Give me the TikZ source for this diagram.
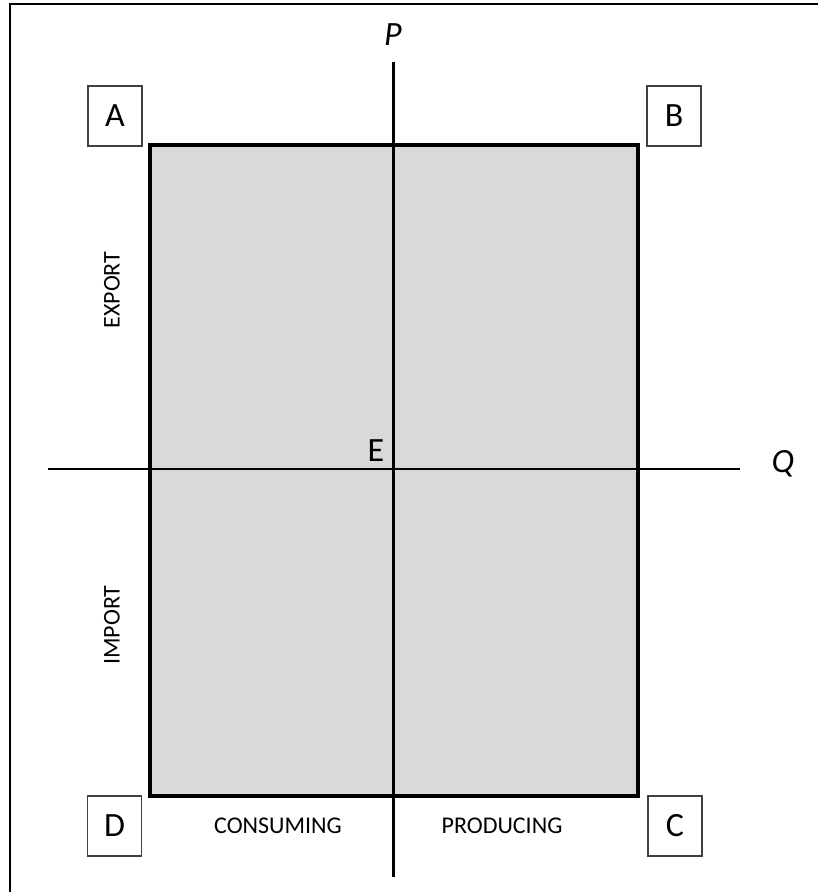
\documentclass[tikz,border=0pt]{standalone}
\usepackage{fontspec}
\setmainfont{Carlito}
\begin{document}
\begin{tikzpicture}[x=1pt,y=-1pt,
  corner/.style={draw=black!75, line width=1.2pt, fill=white, minimum width=54pt, minimum height=60pt, inner sep=0pt, font=\fontsize{34}{36}\selectfont},
  axis/.style={line width=2.6pt},
  lbl/.style={font=\fontsize{24}{26}\selectfont, inner sep=0pt},
  axlbl/.style={font=\fontsize{34}{36}\selectfont\itshape, inner sep=0pt}]
\useasboundingbox (0,0) rectangle (818,892);
\draw[line width=2pt] (10,892) -- (10,4) -- (818,4);
\fill[fill={rgb,255:red,217;green,217;blue,217}] (150,144.5) rectangle (638,796);
\coordinate (pt) at (393.5,62);
\coordinate (pb) at (393.5,877);
\coordinate (ql) at (48,469);
\coordinate (qr) at (740,469);
\draw[axis] (pt) -- (pb);
\draw[axis] (ql) -- (qr);
\draw[line width=4pt] (150,144.5) rectangle (638,796);
\node[corner] (A) at (115,116) {A};
\node[corner] (B) at (674,116) {B};
\node[corner] (C) at (675,826) {C};
\node[corner] (D) at (114.5,826) {D};
\node[axlbl] (P) at (393,35) {P};
\node[axlbl] (Q) at (783,464) {Q};
\node[font=\fontsize{34}{36}\selectfont, inner sep=0pt] (E) at (376,451) {E};
\node[lbl] (cons) at (278,826) {CONSUMING};
\node[lbl] (prod) at (502,826) {PRODUCING};
\node[lbl, rotate=90] (exp) at (112,290) {EXPORT};
\node[lbl, rotate=90] (imp) at (112,625) {IMPORT};
\end{tikzpicture}
\end{document}
